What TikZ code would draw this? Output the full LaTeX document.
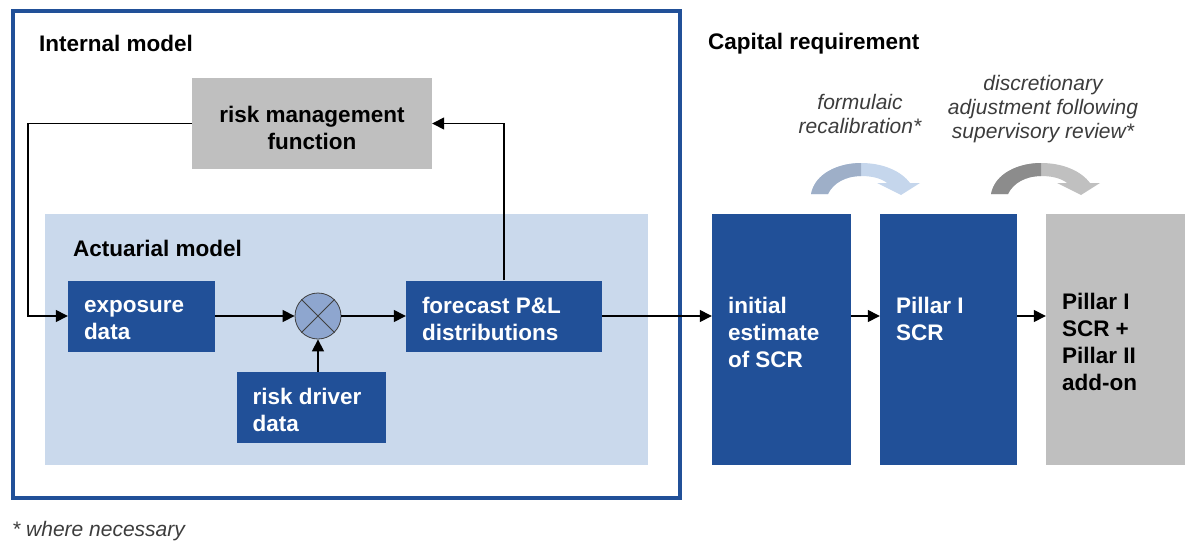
\documentclass[tikz,border=0pt]{standalone}
\usepackage{fontspec}
\setmainfont{Liberation Sans}
\usepackage{tikz}
\usetikzlibrary{arrows.meta}
\usetikzlibrary{calc}

\definecolor{boxblue}{RGB}{33,80,152}
\definecolor{actblue}{RGB}{202,217,236}
\definecolor{midblue}{RGB}{142,166,207}
\definecolor{boxgray}{RGB}{191,191,191}
\definecolor{notegray}{RGB}{60,60,60}
\definecolor{bendblueA}{RGB}{158,175,200}
\definecolor{bendblueB}{RGB}{197,214,236}
\definecolor{bendgrayA}{RGB}{140,140,140}
\definecolor{bendgrayB}{RGB}{192,192,192}

\newcommand{\diagfont}{\fontsize{22.5}{27}\selectfont\bfseries}
\newcommand{\notefont}{\fontsize{21}{24}\selectfont\itshape}

\tikzset{flow/.style={-{Triangle[length=12pt,width=12pt]}, line width=1.4pt}}
\tikzset{bluebox/.style={fill=boxblue, inner sep=0pt}}
\tikzset{graybox/.style={fill=boxgray, inner sep=0pt}}
\tikzset{boxtext/.style={font=\diagfont, align=left, inner sep=0pt, anchor=north west}}
\tikzset{heading/.style={font=\diagfont, inner sep=0pt, anchor=base west}}
\tikzset{note/.style={font=\notefont, text=notegray, align=center, inner sep=0pt}}
\tikzset{bendshape/.style={insert path={
  (0,-1) .. controls (4,-22) and (28,-32) .. (50,-32)
  .. controls (72,-32) and (90,-24) .. (99,-12) -- (109,-12) -- (90,0) -- (66,-12) -- (76,-12)
  .. controls (70,-17) and (60,-19) .. (50,-19)
  .. controls (35,-19) and (22,-12) .. (17,-1) -- cycle}}}
\tikzset{pics/bendarrow/.style 2 args={code={
  \fill[#2, bendshape];
  \begin{scope}
    \clip (-2,2) rectangle (50,-40);
    \fill[#1, bendshape];
  \end{scope}
}}}

\begin{document}
\begin{tikzpicture}[x=1pt, y=-1pt]
\useasboundingbox (0,0) rectangle (1185,543);

% internal model
\node[draw=boxblue, line width=4pt, minimum width=667pt, minimum height=487pt, inner sep=0pt] (internal) at (346.5,254.5) {};
\node[heading] (internallabel) at (39,52) {Internal model};

\node[graybox, minimum width=240pt, minimum height=91pt] (rmf) at (312,123.5) {};
\node[boxtext, align=center, anchor=north] (rmflabel) at ($(rmf.north)+(0,28)$) {risk management\\function};

% actuarial model
\node[fill=actblue, minimum width=603pt, minimum height=251pt, inner sep=0pt] (act) at (346.5,339.5) {};
\node[heading] (actlabel) at (73,256) {Actuarial model};

\node[bluebox, minimum width=147pt, minimum height=71pt] (expo) at (141.5,316) {};
\node[boxtext, text=white] (expolabel) at ($(expo.north west)+(16,19.5)$) {exposure\\data};
\node[circle, draw=black!75, fill=midblue, line width=0.8pt, minimum size=46pt, inner sep=0pt] (mult) at (318,316) {};
\draw[black!75, line width=0.8pt] (mult.north west) -- (mult.south east);
\draw[black!75, line width=0.8pt] (mult.north east) -- (mult.south west);
\node[bluebox, minimum width=149pt, minimum height=71pt] (driver) at (311,407.2) {};
\node[boxtext, text=white] (driverlabel) at ($(driver.north west)+(16,16.6)$) {risk driver\\data};
\node[bluebox, minimum width=196pt, minimum height=71pt] (fcst) at (504,316) {};
\node[boxtext, text=white] (fcstlabel) at ($(fcst.north west)+(16,17)$) {forecast P\&L\\distributions};

\coordinate (loop) at (28,123.5);
\draw[flow] (rmf.west) -- (loop) |- (expo.west);
\draw[flow] (fcst.north) |- (rmf.east);
\draw[flow] (expo.east) -- (mult.west);
\draw[flow] (mult.east) -- (fcst.west);
\draw[flow] (mult.south |- driver.north) -- (mult.south);

% capital requirement
\node[heading] (caplabel) at (708,50) {Capital requirement};

\node[bluebox, minimum width=139pt, minimum height=251pt] (init) at (781.5,339.5) {};
\node[boxtext, text=white] (initlabel) at ($(init.north west)+(16,83)$) {initial\\estimate\\of SCR};
\node[bluebox, minimum width=137pt, minimum height=251pt] (pil1) at (948.5,339.5) {};
\node[boxtext, text=white] (pil1label) at ($(pil1.north west)+(16,83)$) {Pillar I\\SCR};
\node[graybox, minimum width=139pt, minimum height=251pt] (pil2) at (1115.5,339.5) {};
\node[boxtext, text=black] (pil2label) at ($(pil2.north west)+(16,79)$) {Pillar I\\SCR +\\Pillar II\\add-on};

\draw[flow] (fcst.east) -- (fcst.east -| init.west);
\draw[flow] (init.east |- fcst.east) -- (pil1.west |- fcst.east);
\draw[flow] (pil1.east |- fcst.east) -- (pil2.west |- fcst.east);

\node[note] (recal) at (860,114) {formulaic\\recalibration*};
\node[note] (review) at (1043,109) {discretionary\\adjustment following\\supervisory review*};
\pic at (811,195) {bendarrow={bendblueA}{bendblueB}};
\pic at (991,195) {bendarrow={bendgrayA}{bendgrayB}};

\node[font=\notefont, text=notegray, inner sep=0pt, anchor=west] (footnote) at (12,531) {* where necessary};
\end{tikzpicture}
\end{document}
